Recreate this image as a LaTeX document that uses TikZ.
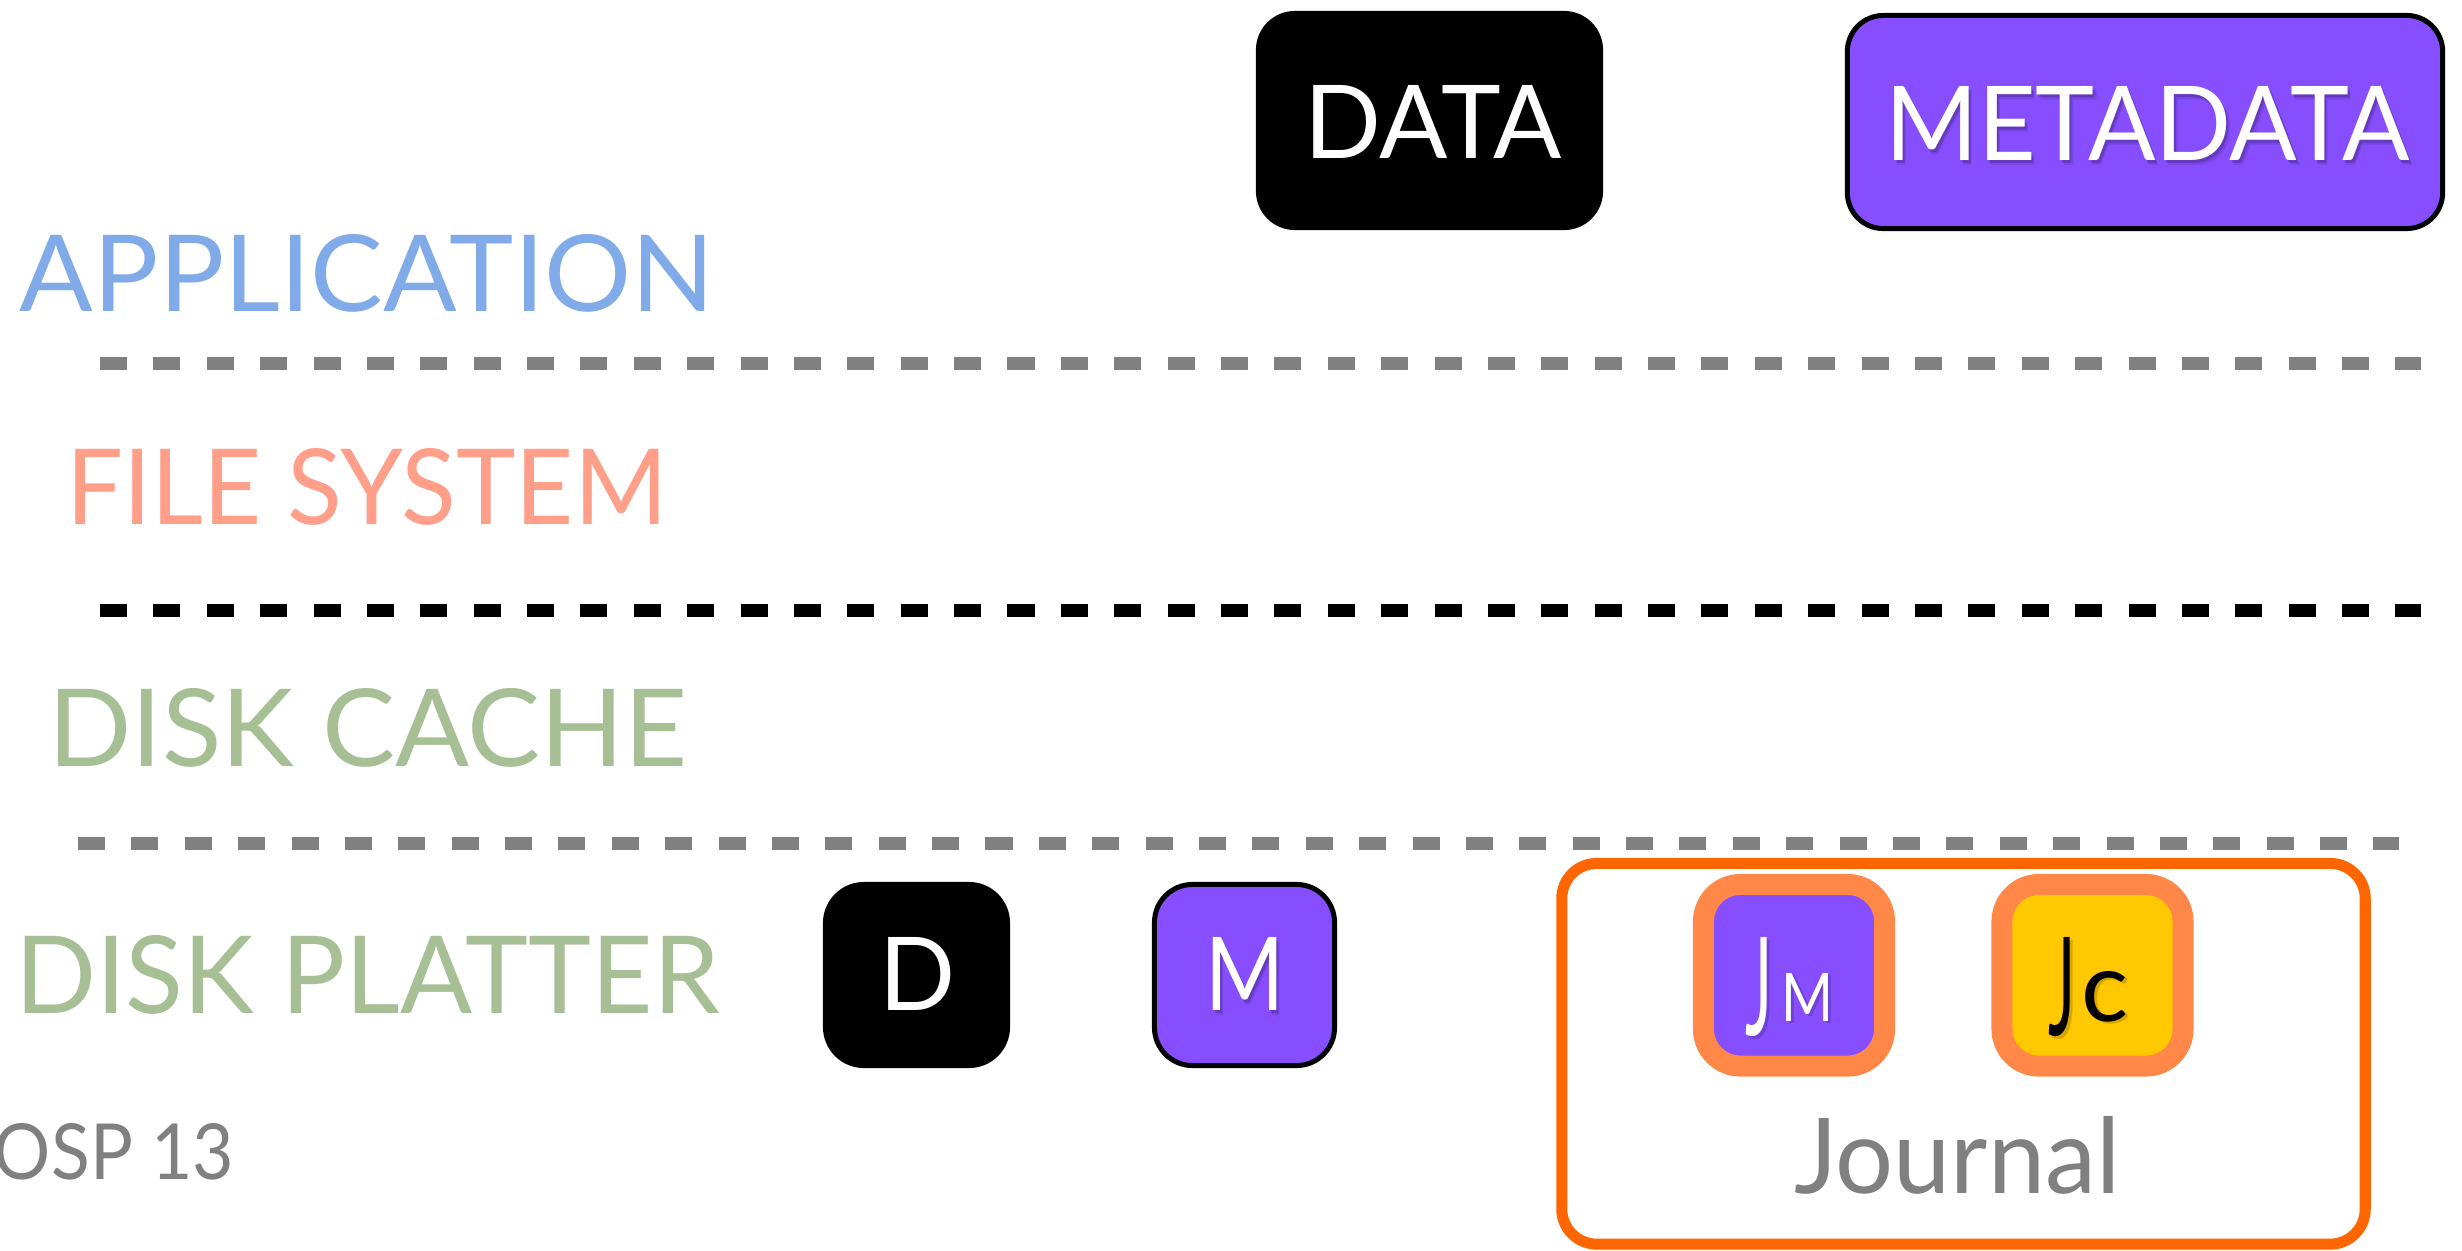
\documentclass[tikz,border=0pt]{standalone}
\usepackage{fontspec}
\setmainfont{Lato}
\usepackage{graphicx}

% palette
\definecolor{appblue}{RGB}{128,170,232}
\definecolor{fssalmon}{RGB}{255,159,137}
\definecolor{diskgreen}{RGB}{166,191,148}
\definecolor{softgray}{RGB}{128,128,128}
\definecolor{metapurple}{RGB}{135,78,255}
\definecolor{journalorange}{RGB}{255,102,0}
\definecolor{entryorange}{RGB}{255,136,72}
\definecolor{commityellow}{RGB}{255,200,0}

% text set to an exact width and cap height
\newcommand{\fitto}[3]{\resizebox{#1}{#2}{#3}}

\tikzset{
  lbl/.style={inner sep=0pt, outer sep=0pt},
  sepline/.style={line width=0.13cm, dash pattern=on 0.27cm off 0.2635cm},
  blockbox/.style={inner sep=0pt, outer sep=0pt, rectangle},
  entrybox/.style={blockbox, draw=entryorange, line width=0.21cm,
    minimum width=1.81cm, minimum height=1.815cm, rounded corners=0.37cm},
  txtshadow/.style={lbl, text=black, opacity=0.16}
}

\begin{document}
\begin{tikzpicture}[x=0.01cm, y=-0.01cm]
\useasboundingbox (0,0) rectangle (2462,1250);

% ---- layer names
\node[lbl, anchor=base west, text=appblue] (app) at (20,311)
  {\fitto{6.94cm}{0.77cm}{APPLICATION}};
\node[lbl, anchor=base west, text=fssalmon] (fs) at (66,524)
  {\fitto{6.01cm}{0.76cm}{FILE SYSTEM}};
\node[lbl, anchor=base west, text=diskgreen] (cache) at (48,766)
  {\fitto{6.39cm}{0.78cm}{DISK CACHE}};
\node[lbl, anchor=base west, text=diskgreen] (platter) at (15,1013)
  {\fitto{7.04cm}{0.78cm}{DISK PLATTER}};
\node[lbl, anchor=base west, text=softgray] (venue) at (-6,1179)
  {\fitto{2.40cm}{0.56cm}{OSP 13}};

% ---- layer separators
\coordinate (s1a) at (100,363);  \coordinate (s1b) at (2421,363);
\coordinate (s2a) at (100,610);  \coordinate (s2b) at (2421,610);
\coordinate (s3a) at (78,843);   \coordinate (s3b) at (2399,843);
\draw[sepline, draw=softgray] (s1a) -- (s1b);
\draw[sepline, draw=black]    (s2a) -- (s2b);
\draw[sepline, draw=softgray] (s3a) -- (s3b);

% ---- application blocks
\node[blockbox, fill=black, minimum width=3.47cm, minimum height=2.19cm,
      rounded corners=0.39cm] (data) at (1429.5,120.5) {};
\node[lbl, text=white] (dataText) at (1433.5,121.5)
  {\fitto{2.57cm}{0.73cm}{DATA}};

\node[blockbox, fill=metapurple, draw=black, line width=0.05cm,
      minimum width=5.95cm, minimum height=2.13cm,
      rounded corners=0.36cm] (meta) at (2145,122) {};
\node[txtshadow] (metaShadowA) at (2149.5,126)
  {\fitto{5.24cm}{0.74cm}{METADATA}};
\node[txtshadow, opacity=0.10] (metaShadowB) at (2151,128.5)
  {\fitto{5.24cm}{0.74cm}{METADATA}};
\node[lbl, text=white] (metaText) at (2147.5,123)
  {\fitto{5.24cm}{0.74cm}{METADATA}};

% ---- blocks on the platter
\node[blockbox, fill=black, minimum width=1.87cm, minimum height=1.86cm,
      rounded corners=0.41cm] (dblk) at (916.5,975) {};
\node[lbl, text=white] (dblkText) at (917.5,973.5)
  {\fitto{0.76cm}{0.73cm}{D}};

\node[blockbox, fill=metapurple, draw=black, line width=0.05cm,
      minimum width=1.80cm, minimum height=1.81cm,
      rounded corners=0.38cm] (mblk) at (1244.5,975) {};
\node[txtshadow] (mblkShadowA) at (1247,976.5)
  {\fitto{0.79cm}{0.73cm}{M}};
\node[txtshadow, opacity=0.10] (mblkShadowB) at (1248.5,979)
  {\fitto{0.79cm}{0.73cm}{M}};
\node[lbl, text=white] (mblkText) at (1245,973.5)
  {\fitto{0.79cm}{0.73cm}{M}};

% ---- journal
\node[blockbox, draw=journalorange, line width=0.11cm,
      minimum width=8.03cm, minimum height=3.805cm,
      rounded corners=0.35cm] (journal) at (1963.5,1053.75) {};
\node[lbl, anchor=base west, text=softgray] (journalText) at (1794,1193)
  {\fitto{3.26cm}{0.77cm}{Journal}};

\node[entrybox, fill=metapurple] (jm) at (1794,975.25) {};
\node[txtshadow, anchor=south west] (jmJShadow) at (1748.5,1039.5)
  {\fitto{0.27cm}{0.98cm}{J}};
\node[txtshadow, anchor=south west] (jmMShadow) at (1784.5,1023.5)
  {\fitto{0.52cm}{0.48cm}{M}};
\node[lbl, anchor=south west, text=white] (jmJ) at (1745,1037)
  {\fitto{0.27cm}{0.98cm}{J}};
\node[lbl, anchor=south west, text=white] (jmM) at (1781,1021)
  {\fitto{0.52cm}{0.48cm}{M}};

\node[entrybox, fill=commityellow] (jc) at (2092.5,975.25) {};
\node[txtshadow, anchor=south west] (jcJShadow) at (2051.5,1039.5)
  {\fitto{0.27cm}{0.98cm}{J}};
\node[txtshadow, anchor=south west] (jcCShadow) at (2084.5,1024.5)
  {\fitto{0.47cm}{0.50cm}{c}};
\node[lbl, anchor=south west, text=black] (jcJ) at (2048,1037)
  {\fitto{0.27cm}{0.98cm}{J}};
\node[lbl, anchor=south west, text=black] (jcC) at (2081,1022)
  {\fitto{0.47cm}{0.50cm}{c}};
\end{tikzpicture}
\end{document}
